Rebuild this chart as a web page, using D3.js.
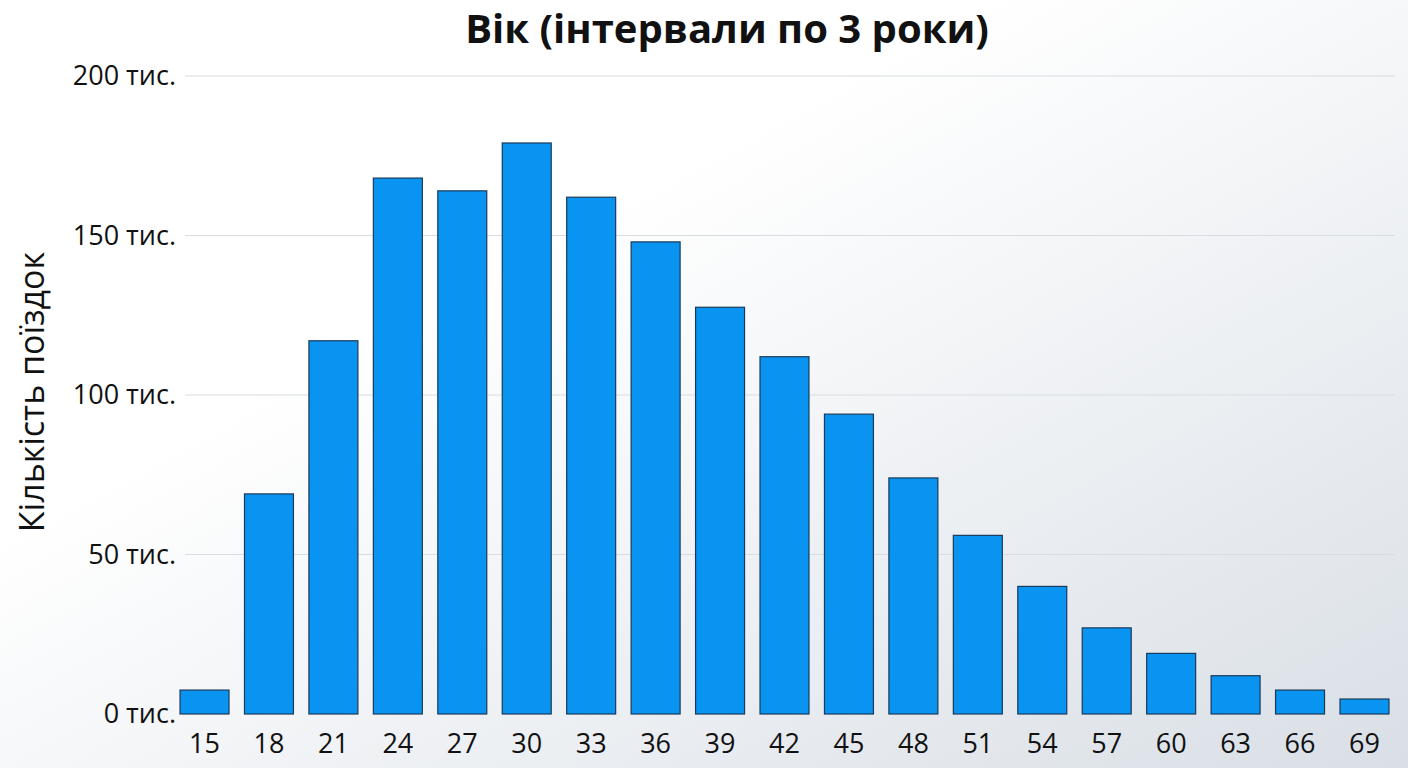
<!DOCTYPE html>
<html><head><meta charset="utf-8">
<script src="https://cdn.jsdelivr.net/npm/d3@7"></script>
<style>body{margin:0;overflow:hidden}svg{display:block}</style>
</head><body>
<svg id="c" width="1408" height="768"></svg>
<script>
const categories = ["15","18","21","24","27","30","33","36","39","42","45","48","51","54","57","60","63","66","69"];
const values = [7.5,69,117,168,164,179,162,148,127.5,112,94,74,56,40,27,19,12,7.5,4.7];
const yTicks = [0,50,100,150,200];
const title = "Вік (інтервали по 3 роки)";
const yLabel = "Кількість поїздок";

const svg = d3.select("#c");
const defs = svg.append("defs");
const g = defs.append("linearGradient").attr("id","bg").attr("x1","0").attr("y1","0").attr("x2","1").attr("y2","1");
g.append("stop").attr("offset","0.35").attr("stop-color","#ffffff");
g.append("stop").attr("offset","1").attr("stop-color","#d9dfe6");
svg.append("rect").attr("width",1408).attr("height",768).attr("fill","url(#bg)");

const font = "'Open Sans', 'Noto Sans', sans-serif";
const x = d3.scaleBand().domain(categories).range([172.3,1396.7]).paddingInner(0.24).paddingOuter(0.12);
const y = d3.scaleLinear().domain([0,200]).range([714,76]);

svg.append("g").selectAll("line").data(yTicks.slice(1)).join("line")
  .attr("x1",185).attr("x2",1395).attr("y1",d=>y(d)).attr("y2",d=>y(d))
  .attr("stroke","#d8dde2").attr("stroke-width",1.2);

svg.append("g").selectAll("text").data(yTicks).join("text")
  .attr("x",176).attr("y",d=>y(d)).attr("dy","0.35em").attr("text-anchor","end")
  .attr("font-family",font).attr("font-size",27).attr("fill","#111")
  .text(d=>d+" тис.");

svg.append("g").selectAll("rect").data(values).join("rect")
  .attr("x",(d,i)=>x(categories[i])).attr("width",x.bandwidth())
  .attr("y",d=>y(d)).attr("height",d=>y(0)-y(d))
  .attr("fill","#0894f0").attr("stroke","#1b3a5a").attr("stroke-width",1.2);

svg.append("g").selectAll("text").data(categories).join("text")
  .attr("x",d=>x(d)+x.bandwidth()/2).attr("y",753).attr("text-anchor","middle")
  .attr("font-family",font).attr("font-size",27).attr("fill","#111").text(d=>d);

svg.append("text").attr("x",727).attr("y",43).attr("text-anchor","middle")
  .attr("font-family",font).attr("font-weight","bold").attr("font-size",40).attr("fill","#111").text(title);

svg.append("text").attr("transform","translate(44,392) rotate(-90)").attr("text-anchor","middle")
  .attr("font-family",font).attr("font-size",34).attr("fill","#111").text(yLabel);
</script>
</body></html>
